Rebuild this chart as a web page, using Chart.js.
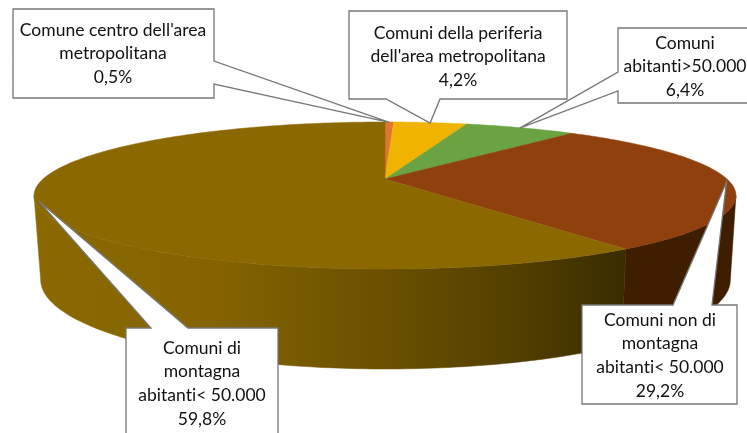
<!DOCTYPE html>
<html>
<head>
<meta charset="utf-8">
<style>
  html, body { margin: 0; padding: 0; background: #fff; }
  canvas { display: block; }
</style>
<script src="https://cdn.jsdelivr.net/npm/chart.js@4"></script>
</head>
<body>
<canvas id="pieChart" width="747" height="433"></canvas>
<script>
const categories = [
    'Comune centro dell\'area metropolitana',
    'Comuni della periferia dell\'area metropolitana',
    'Comuni abitanti>50.000',
    'Comuni non di montagna abitanti< 50.000',
    'Comuni di montagna abitanti< 50.000'
];
const shares = [0.5, 4.2, 6.4, 29.2, 59.8];
const shareLabels = ['0,5%', '4,2%', '6,4%', '29,2%', '59,8%'];
const topColors = ['#E0752D', '#F0B400', '#6BA342', '#8F400C', '#8B6900'];
const wallColors = ['#6E3A16', '#785A00', '#355121', '#3F1E00', '#8B6900'];
const labelLines = [
    ['Comune centro dell\'area', 'metropolitana'],
    ['Comuni della periferia', 'dell\'area metropolitana'],
    ['Comuni', 'abitanti>50.000'],
    ['Comuni non di', 'montagna', 'abitanti< 50.000'],
    ['Comuni di', 'montagna', 'abitanti< 50.000']
];

// perspective of the pie: top face and bottom face of the cylinder
const topFace = { cx: 385, cy: 179, a: 342, b: 69.8, k: 0.2245 };
const bottomFace = { cx: 385.5, cy: 260, a: 336, b: 84.5, k: 0.2245 };
const wallFrom = 103 * Math.PI / 180;
const wallTo = 257 * Math.PI / 180;

// callout boxes, tail opens on one side of the box (from a to b along it)
const callouts = [
    { x: 13, y: 9, w: 201, h: 89, side: 'right', a: 61, b: 84, tx: 113, ty: 30 },
    { x: 349, y: 11, w: 218, h: 88, side: 'bottom', a: 386, b: 440, tx: 458, ty: 33 },
    { x: 618, y: 28, w: 132, h: 75, side: 'left', a: 72, b: 91, tx: 685, ty: 43 },
    { x: 582, y: 305, w: 155, h: 99, side: 'top', a: 673, b: 712, tx: 660, ty: 320 },
    { x: 126, y: 328, w: 152, h: 115, side: 'top', a: 151, b: 188, tx: 202, ty: 348 }
];

function project(face, theta, radius = 1) {
    const X = radius * Math.sin(theta);
    const Y = -radius * Math.cos(theta);
    const d = 1 - face.k * Y;
    return { x: face.cx + face.a * X / d, y: face.cy + face.b * Y / d };
}

function traceArc(ctx, face, from, to) {
    const steps = Math.max(2, Math.ceil(Math.abs(to - from) * 60));
    for (let i = 0; i <= steps; i++) {
        const p = project(face, from + (to - from) * i / steps);
        ctx.lineTo(p.x, p.y);
    }
}

function drawWall(ctx, from, to, fill) {
    const s = Math.max(from, wallFrom);
    const e = Math.min(to, wallTo);
    if (e <= s) return;
    ctx.beginPath();
    traceArc(ctx, topFace, s, e);
    traceArc(ctx, bottomFace, e, s);
    ctx.closePath();
    ctx.fillStyle = fill;
    ctx.strokeStyle = fill;
    ctx.lineWidth = 0.5;
    ctx.fill();
    ctx.stroke();
}

function drawCallout(ctx, box, tip, lines) {
    const r = box.x + box.w;
    const bot = box.y + box.h;
    ctx.beginPath();
    ctx.moveTo(box.x, box.y);
    if (box.side === 'top') {
        ctx.lineTo(box.a, box.y); ctx.lineTo(tip.x, tip.y); ctx.lineTo(box.b, box.y);
    }
    ctx.lineTo(r, box.y);
    if (box.side === 'right') {
        ctx.lineTo(r, box.a); ctx.lineTo(tip.x, tip.y); ctx.lineTo(r, box.b);
    }
    ctx.lineTo(r, bot);
    if (box.side === 'bottom') {
        ctx.lineTo(box.b, bot); ctx.lineTo(tip.x, tip.y); ctx.lineTo(box.a, bot);
    }
    ctx.lineTo(box.x, bot);
    if (box.side === 'left') {
        ctx.lineTo(box.x, box.b); ctx.lineTo(tip.x, tip.y); ctx.lineTo(box.x, box.a);
    }
    ctx.closePath();
    ctx.fillStyle = '#fff';
    ctx.strokeStyle = '#777';
    ctx.lineWidth = 1.3;
    ctx.fill();
    ctx.stroke();

    ctx.fillStyle = '#111';
    ctx.font = '17.5px Lato';
    ctx.letterSpacing = '0.01px'; // keeps Lato from joining "ti"
    ctx.textAlign = 'center';
    ctx.textBaseline = 'middle';
    lines.forEach((line, i) => ctx.fillText(line, box.tx, box.ty + i * 23.7));
}

const pie3d = {
    id: 'pie3d',
    // the arcs keep the angles Chart.js worked out, only the drawing is projected
    beforeDatasetsDraw(chart) {
        const ctx = chart.ctx;
        const arcs = chart.getDatasetMeta(0).data;
        const shade = ctx.createLinearGradient(34, 0, 627, 0);
        shade.addColorStop(0, '#8B6900');
        shade.addColorStop(0.3, '#856400');
        shade.addColorStop(0.58, '#6B5100');
        shade.addColorStop(0.8, '#544000');
        shade.addColorStop(1, '#392C00');

        arcs.forEach((arc, i) => {
            const from = arc.startAngle + Math.PI / 2;
            const to = arc.endAngle + Math.PI / 2;
            drawWall(ctx, from, to, i === arcs.length - 1 ? shade : wallColors[i]);
        });
        arcs.forEach((arc, i) => {
            ctx.beginPath();
            ctx.moveTo(topFace.cx, topFace.cy);
            traceArc(ctx, topFace, arc.startAngle + Math.PI / 2, arc.endAngle + Math.PI / 2);
            ctx.closePath();
            ctx.fillStyle = topColors[i];
            ctx.strokeStyle = topColors[i];
            ctx.lineWidth = 0.5;
            ctx.fill();
            ctx.stroke();
        });
        return false;
    },
    afterDraw(chart) {
        const ctx = chart.ctx;
        const arcs = chart.getDatasetMeta(0).data;
        arcs.forEach((arc, i) => {
            const mid = (arc.startAngle + arc.endAngle) / 2 + Math.PI / 2;
            const tip = project(topFace, mid, 0.99);
            drawCallout(ctx, callouts[i], tip, labelLines[i].concat(shareLabels[i]));
        });
    }
};

new Chart(document.getElementById('pieChart').getContext('2d'), {
    type: 'pie',
    data: {
        labels: categories,
        datasets: [{
            data: shares,
            backgroundColor: topColors,
            borderWidth: 0
        }]
    },
    options: {
        responsive: false,
        animation: false,
        plugins: {
            legend: { display: false },
            tooltip: { enabled: false }
        }
    },
    plugins: [pie3d]
});
</script>
</body>
</html>
